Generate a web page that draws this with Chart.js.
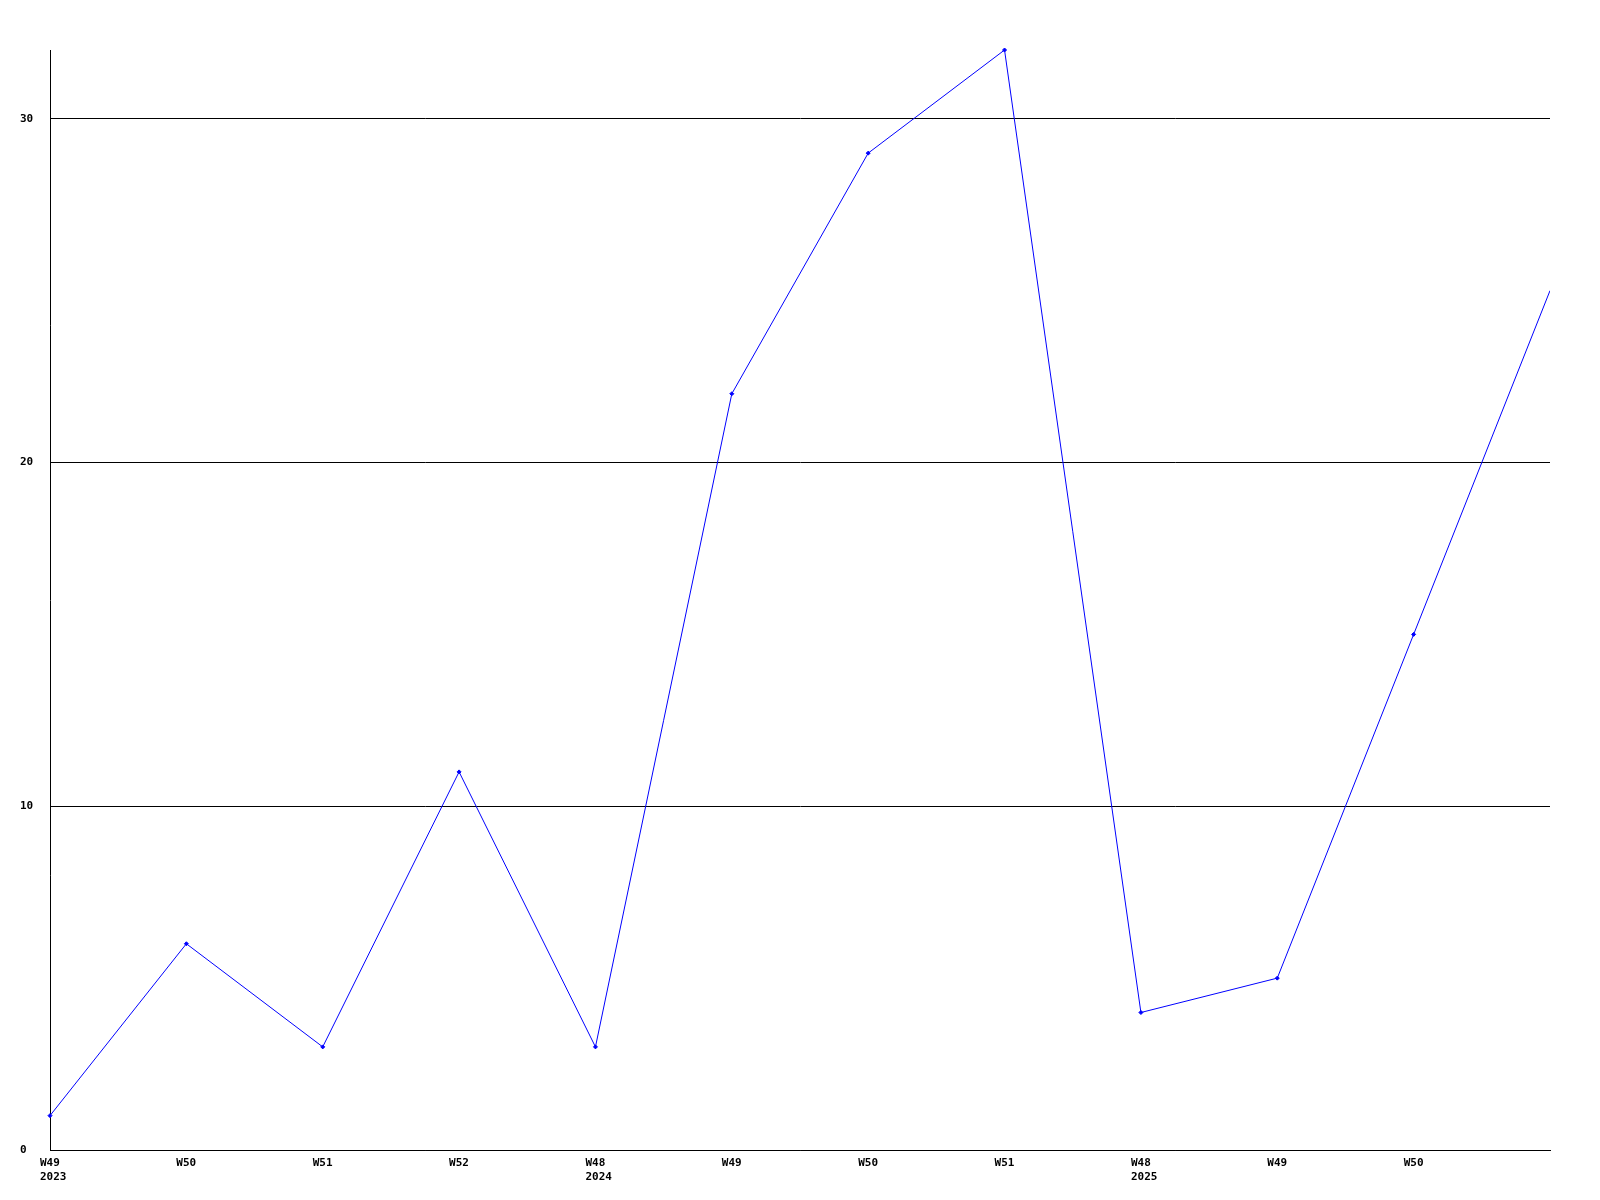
<!DOCTYPE html>
<html>
<head>
<meta charset="utf-8">
<script src="https://cdn.jsdelivr.net/npm/chart.js@4/dist/chart.umd.min.js"></script>
<style>
    html, body { margin: 0; padding: 0; background: #fff; }
    #wrap { width: 1600px; height: 1200px; }
</style>
</head>
<body>
<div id="wrap"><canvas id="grafico"></canvas></div>
<script>
// semanas (a ultima nao tem etiqueta no original)
const semanas = [
    ['W49', '2023'], 'W50', 'W51', 'W52',
    ['W48', '2024'], 'W49', 'W50', 'W51',
    ['W48', '2025'], 'W49', 'W50', 'W51'
];
const valores = [1, 6, 3, 11, 3, 22, 29, 32, 4, 5, 15, 25];
const yTicks = [0, 10, 20, 30];

const fonte = { family: 'DejaVu Sans Mono', size: 11, weight: 'bold', lineHeight: 1.3 };

new Chart(document.getElementById('grafico'), {
    type: 'line',
    data: {
        labels: semanas,
        datasets: [{
            data: valores,
            borderColor: '#0000ff',
            backgroundColor: '#0000ff',
            borderWidth: 1,
            pointStyle: 'rectRot',
            pointRadius: ctx => ctx.dataIndex === valores.length - 1 ? 0 : 2,
            pointHoverRadius: 2,
            tension: 0,
            clip: { left: 5, top: 5, right: 0, bottom: 5 }
        }]
    },
    options: {
        responsive: true,
        maintainAspectRatio: false,
        animation: false,
        layout: { padding: { left: 20, right: 50, top: 50, bottom: 0 } },
        plugins: { legend: { display: false }, tooltip: { enabled: false } },
        scales: {
            x: {
                offset: false,
                grid: { display: false, drawTicks: false },
                border: { display: true, color: '#000', width: 1 },
                ticks: {
                    color: '#000',
                    font: fonte,
                    align: 'start',
                    labelOffset: -10,
                    padding: 6,
                    maxRotation: 0,
                    autoSkip: false,
                    callback: function (v, i) {
                        return i === semanas.length - 1 ? '' : this.getLabelForValue(v);
                    }
                },
                afterFit: s => { s.height = 50; }
            },
            y: {
                min: 0,
                max: 32,
                afterBuildTicks: s => {
                    s.ticks = yTicks.map(v => ({ value: v }));
                },
                grid: { color: '#000', lineWidth: 1, drawTicks: false },
                border: { display: true, color: '#000', width: 1 },
                ticks: {
                    color: '#000',
                    font: fonte,
                    crossAlign: 'far',
                    padding: 0
                },
                afterFit: s => { s.width = 30; }
            }
        }
    }
});
</script>
</body>
</html>
